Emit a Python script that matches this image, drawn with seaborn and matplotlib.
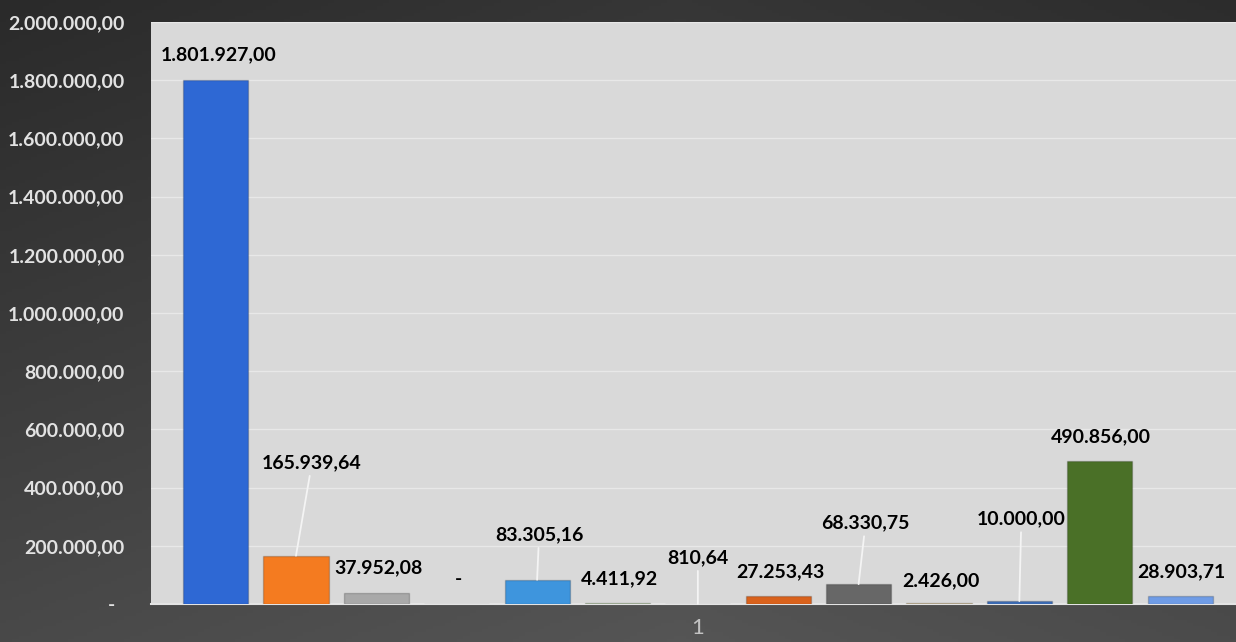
import numpy as np
import pandas as pd
import matplotlib
matplotlib.use("Agg")
import matplotlib.pyplot as plt
from matplotlib.colors import LinearSegmentedColormap
from matplotlib.ticker import FuncFormatter, MultipleLocator
import seaborn as sns

# data (one category "1", 13 series)
categoria = "1"
series = [f"Série {i}" for i in range(1, 14)]
valores = [1801927.00, 165939.64, 37952.08, 0.00, 83305.16, 4411.92, 810.64,
           27253.43, 68330.75, 2426.00, 10000.00, 490856.00, 28903.71]
cores = ["#2E68D4", "#F47B20", "#A9A9A9", "#F2B705", "#3E95DD", "#9DBB86", "#2F4F8F",
         "#D9621C", "#676767", "#C8A96E", "#3D6DB8", "#4A7027", "#6F9CE6"]

df = pd.DataFrame({"cat": [categoria] * len(series), "serie": series, "valor": valores})


def br(v, pos=None):
    if v == 0:
        return "-"
    s = f"{v:,.2f}"
    return s.replace(",", "X").replace(".", ",").replace("X", ".")


sns.set_style("white")
plt.rcParams["font.family"] = ["Lato", "DejaVu Sans"]

fig = plt.figure(figsize=(12.36, 6.42), dpi=100)

# dark gradient background
bg = fig.add_axes([0, 0, 1, 1], zorder=0)
yy, xx = np.mgrid[0:1:200j, 0:1:200j]
grad = 0.55 * yy + 0.25 * (1 - np.abs(xx - 0.55) * 1.6)
cmap = LinearSegmentedColormap.from_list("bg", ["#2a2a2a", "#555555"])
bg.imshow(grad, cmap=cmap, aspect="auto", origin="upper", extent=[0, 1, 0, 1])
bg.axis("off")

ax = fig.add_axes([151 / 1236, 38 / 642, 1085 / 1236, 582 / 642], zorder=1)
ax.set_facecolor("#D9D9D9")

sns.barplot(data=df, x="cat", y="valor", hue="serie", hue_order=series,
            palette=cores, saturation=1, width=0.963, gap=0.19,
            errorbar=None, legend=False, ax=ax, zorder=3,
            edgecolor="#00000030", linewidth=1)

ax.set_ylim(0, 2_000_000)
ax.set_xlim(-0.504, 0.496)
ax.yaxis.set_major_locator(MultipleLocator(200_000))
ax.yaxis.set_major_formatter(FuncFormatter(lambda v, p: "-  " if v == 0 else br(v)))
ax.grid(axis="y", color="#E8E8E8", linewidth=1, zorder=0)
ax.set_axisbelow(True)
for s in ["top", "right", "left"]:
    ax.spines[s].set_visible(False)
ax.spines["bottom"].set_color("#E4E4E4")
ax.spines["bottom"].set_linewidth(1.5)

ax.tick_params(axis="y", length=0, pad=19, labelsize=14, labelcolor="#E2E2E2")
ax.tick_params(axis="x", length=0, pad=10, labelsize=16, labelcolor="#C2C2C2")
for t in ax.get_yticklabels():
    t.set_fontweight("bold")
ax.set_xlabel("")
ax.set_ylabel("")

# data labels: offsets in pixels from top centre of each bar, some with leader lines
label_offsets = [(3, 25), (16, 93), (2, 25), (2, 24), (2, 45), (2, 24), (0, 46),
                 (2, 24), (7, 61), (2, 23), (2, 82), (1.5, 24), (1, 24)]
leaders = [1, 4, 6, 8, 10]

bars = sorted([p for p in ax.patches], key=lambda p: p.get_x())
for i, (p, v) in enumerate(zip(bars, valores)):
    x = p.get_x() + p.get_width() / 2
    y = p.get_height()
    dx, dy = label_offsets[i]
    arrow = None
    if i in leaders:
        arrow = dict(arrowstyle="-", color="#F4F4F4", lw=1.3, shrinkA=1, shrinkB=0)
    ax.annotate(br(v), xy=(x, y), xytext=(dx, dy), textcoords="offset pixels",
                ha="center", va="center", fontsize=14, fontweight="bold",
                color="black", arrowprops=arrow, zorder=5)

fig.savefig("out.png", dpi=100)
